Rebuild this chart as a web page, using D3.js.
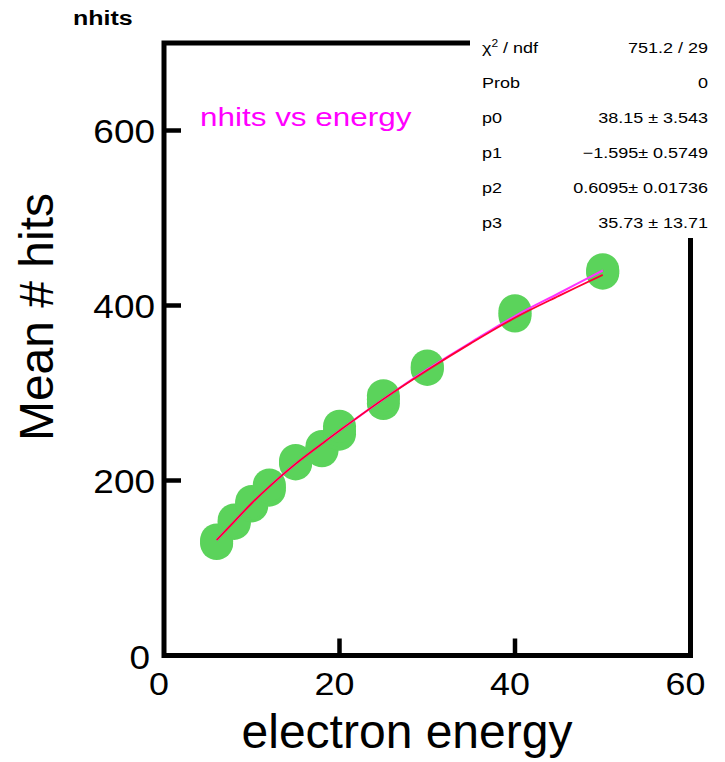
<!DOCTYPE html>
<html>
<head>
<meta charset="utf-8">
<script src="https://cdn.jsdelivr.net/npm/d3@7"></script>
<style>
  html, body { margin: 0; padding: 0; background: #fff; }
  svg { display: block; font-family: "Liberation Sans", Arial, Helvetica, sans-serif; }
</style>
</head>
<body>
<svg id="chart" width="725" height="762"></svg>
<script>
// Beam energies (three runs at each energy)
const energies = [6, 8, 10, 12, 15, 18, 20, 25, 30, 40, 50];
const hitsRunA = [128, 151, 171, 189, 219, 234, 253, 288, 327, 388, 437];
const hitsRunB = [130, 153, 174, 192, 221, 236, 257, 293, 329, 391, 439];
const hitsRunC = [132, 155, 176, 195, 223, 239, 262, 297, 331, 394, 441];

// Fitted curves, sampled along the energy axis
const fitEnergy  = [6, 8, 10, 12, 15, 18, 20, 25, 30, 35, 40, 45, 50];
const fitRed     = [132, 153, 174, 193, 219, 242, 257, 293, 326, 357, 386, 411, 435];
const fitMagenta = [132, 153, 174, 193, 219, 242, 257, 293, 327, 358, 388, 414, 440];

// Fit statistics
const statLabels = ["χ2 / ndf", "Prob", "p0", "p1", "p2", "p3"];
const statValues = ["751.2 / 29", "0", "38.15 ± 3.543", "−1.595±  0.5749", "0.6095± 0.01736", "35.73 ± 13.71"];

const xTicks = [0, 20, 40, 60];
const yTicks = [0, 200, 400, 600];

const svg = d3.select("#chart");

const x = d3.scaleLinear().domain([0, 60]).range([164, 690.5]);
const y = d3.scaleLinear().domain([0, 700]).range([655.5, 43]);

// Text helper with optional horizontal stretch
function label(parent, px, py, txt, opt) {
  const o = Object.assign({size: 16, sx: 1, anchor: "start", weight: "normal", fill: "#000", rotate: 0}, opt || {});
  const g = parent.append("g")
    .attr("transform", `translate(${px},${py}) rotate(${o.rotate}) scale(${o.sx},1)`);
  const t = g.append("text")
    .attr("font-size", o.size)
    .attr("font-weight", o.weight)
    .attr("fill", o.fill)
    .attr("text-anchor", o.anchor);
  return t.text(txt);
}

// Data points
const points = [];
energies.forEach((e, i) => {
  points.push([e, hitsRunA[i]], [e, hitsRunB[i]], [e, hitsRunC[i]]);
});
svg.append("g").selectAll("circle")
  .data(points)
  .join("circle")
  .attr("cx", d => x(d[0]))
  .attr("cy", d => y(d[1]))
  .attr("r", 16.5)
  .attr("fill", "#5bd35b");

// Fit curves
const line = d3.line().x(d => x(d[0])).y(d => y(d[1])).curve(d3.curveCatmullRom);
svg.append("path")
  .attr("d", line(fitEnergy.map((e, i) => [e, fitMagenta[i]])))
  .attr("fill", "none").attr("stroke", "#ff33ff").attr("stroke-width", 2);
svg.append("path")
  .attr("d", line(fitEnergy.map((e, i) => [e, fitRed[i]])))
  .attr("fill", "none").attr("stroke", "#ff0033").attr("stroke-width", 1.8);

// Frame
const frame = svg.append("g");
frame.append("rect")
  .attr("x", x(0)).attr("y", y(700))
  .attr("width", x(60) - x(0)).attr("height", y(0) - y(700))
  .attr("fill", "none").attr("stroke", "#000").attr("stroke-width", 5);

// Axis ticks (inward)
frame.selectAll("line.xt").data(xTicks.slice(1, -1)).join("line")
  .attr("x1", d => x(d)).attr("x2", d => x(d))
  .attr("y1", y(0)).attr("y2", y(0) - 17)
  .attr("stroke", "#000").attr("stroke-width", 4.5);
frame.selectAll("line.yt").data(yTicks.slice(1)).join("line")
  .attr("x1", x(0)).attr("x2", x(0) + 17)
  .attr("y1", d => y(d)).attr("y2", d => y(d))
  .attr("stroke", "#000").attr("stroke-width", 4.5);

// Tick labels
xTicks.forEach(t => label(svg, x(t) - 5, 695, String(t), {size: 32, sx: 1.12, anchor: "middle"}));
yTicks.forEach(t => label(svg, t === 0 ? 150 : 155, y(t) + (t === 0 ? 13 : 12), String(t),
  {size: 33, sx: 1.12, anchor: "end"}));

// Axis titles
label(svg, 407, 748, "electron energy", {size: 48, anchor: "middle"});
label(svg, 53, 317, "Mean # hits", {size: 48, anchor: "middle", rotate: -90});

// Titles
label(svg, 73, 25, "nhits", {size: 20, sx: 1.25, weight: "bold"});
label(svg, 200, 126, "nhits vs energy", {size: 26, sx: 1.21, fill: "#ff00ff"});

// Statistics box
const stats = svg.append("g");
stats.append("rect")
  .attr("x", 470).attr("y", 28).attr("width", 255).attr("height", 210)
  .attr("fill", "#fff");
const rowY = d3.scaleLinear().domain([0, 5]).range([53, 228]);
statLabels.forEach((s, i) => {
  if (i === 0) {
    const t = label(stats, 482, rowY(i), "", {size: 15, sx: 1.2});
    t.append("tspan").text("χ");
    t.append("tspan").attr("font-size", 10).attr("dy", -6).text("2");
    t.append("tspan").attr("dy", 6).text(" / ndf");
  } else {
    label(stats, 482, rowY(i), s, {size: 15, sx: 1.2});
  }
  label(stats, 708, rowY(i), statValues[i], {size: 15, sx: 1.2, anchor: "end"});
});
</script>
</body>
</html>
